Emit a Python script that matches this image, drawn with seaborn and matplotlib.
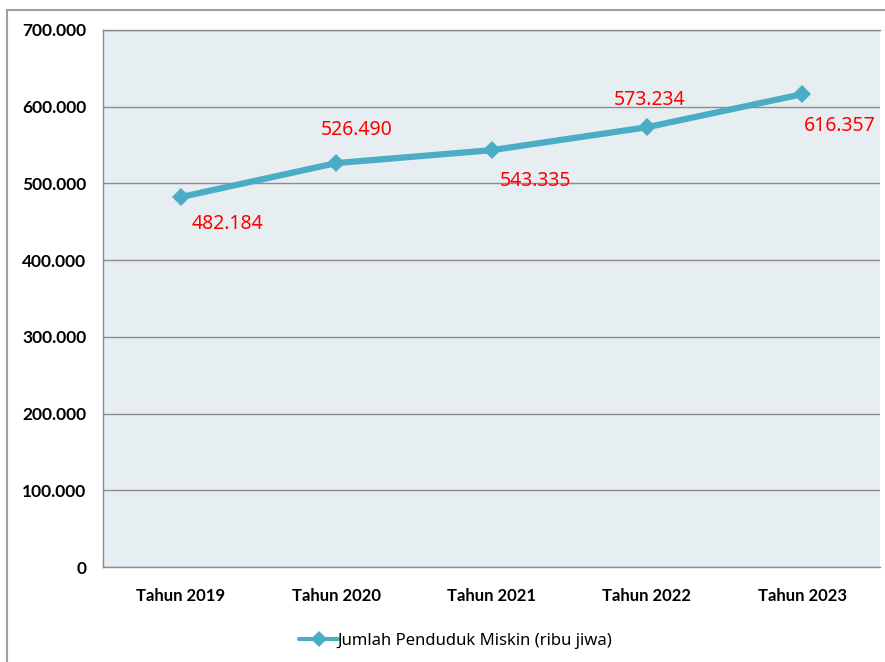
import numpy as np
import pandas as pd
import matplotlib.pyplot as plt
import seaborn as sns
from matplotlib.patches import Rectangle
from matplotlib.ticker import FuncFormatter

years = ["Tahun 2019", "Tahun 2020", "Tahun 2021", "Tahun 2022", "Tahun 2023"]
values = [482184, 526490, 543335, 573234, 616357]
value_labels = ["482.184", "526.490", "543.335", "573.234", "616.357"]
series_name = "Jumlah Penduduk Miskin (ribu jiwa)"

# label offsets in pixels relative to each point
label_offsets = [(47, -27), (21, 33), (44, -31), (3, 27), (38, -32)]

LINE_COLOUR = "#4BACC6"

sns.set_theme(style="white")
plt.rcParams["font.family"] = ["Noto Sans", "DejaVu Sans"]
plt.rcParams["text.color"] = "black"
plt.rcParams["xtick.color"] = "black"
plt.rcParams["ytick.color"] = "black"

df = pd.DataFrame({"year": years, "value": values})

fig = plt.figure(figsize=(8.85, 6.62), dpi=100)
ax = fig.add_axes([103 / 885, 1 - 567 / 662, 777 / 885, 537 / 662])
ax.set_facecolor("#E7EEF2")

sns.lineplot(data=df, x="year", y="value", ax=ax, color=LINE_COLOUR,
             linewidth=4.5, marker="D", markersize=9, markeredgewidth=0,
             label=series_name, sort=False)

for i, (v, txt) in enumerate(zip(values, value_labels)):
    ax.annotate(txt, (i, v), xytext=label_offsets[i], textcoords="offset pixels",
                ha="center", va="center", color="#FF0000", fontsize=14)

ax.set_xlim(-0.5, len(years) - 0.5)
ax.set_ylim(0, 700000)
ax.set_yticks(np.arange(0, 700001, 100000))
ax.yaxis.set_major_formatter(
    FuncFormatter(lambda y, _: "0" if y == 0 else f"{int(y):,}".replace(",", ".")))
ax.yaxis.grid(True, color="#8C8C8C", linewidth=1)
ax.set_axisbelow(True)
ax.tick_params(axis="y", length=0, pad=12, labelsize=12.5)
ax.tick_params(axis="x", length=0, pad=15, labelsize=12)
for lbl in ax.get_xticklabels() + ax.get_yticklabels():
    lbl.set_fontweight("bold")
    lbl.set_family(["Lato", "DejaVu Sans"])
ax.set_xlabel("")
ax.set_ylabel("")

for side in ("left", "bottom", "top"):
    ax.spines[side].set_color("#8C8C8C")
    ax.spines[side].set_linewidth(1)
ax.spines["right"].set_visible(False)

ax.legend(loc="center", bbox_to_anchor=(456 / 885, 1 - 641 / 662),
          bbox_transform=fig.transFigure, frameon=False, fontsize=12,
          handlelength=2.3, handletextpad=0.0, borderaxespad=0)
leg_line = ax.get_legend().get_lines()[0]
leg_line.set_linewidth(3)
leg_line.set_markersize(8)

fig.patches.append(Rectangle((7 / 885, -0.05), 1.0, 1 - 10 / 662 + 0.05,
                             transform=fig.transFigure, fill=False,
                             edgecolor="#A0A0A0", linewidth=1.5, zorder=0))

fig.savefig("out.png", dpi=100)
